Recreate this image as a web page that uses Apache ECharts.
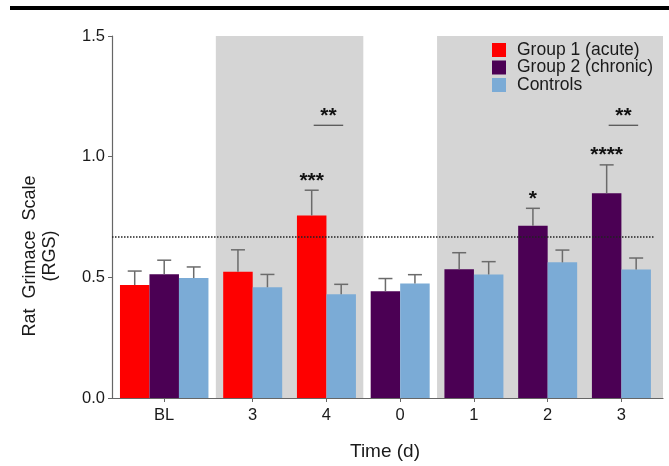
<!DOCTYPE html>
<html lang="en">

<head>
  <meta charset="UTF-8" />
  <title>Rat Grimace Scale</title>
  <script src="https://cdn.jsdelivr.net/npm/echarts@6/dist/echarts.min.js"></script>
  <style>
    body { margin: 0; background: #fff; }
  </style>
</head>

<body>
  <div id="main" style="width: 669px;height:466px;"></div>
  <script type="text/javascript">
    // categories on the x axis (days)
    var categories = ['BL', '3', '4', '0', '1', '2', '3']
    // mean RGS per group (null = group not measured that day)
    var group1 = [0.468, 0.523, 0.756, null, null, null, null]
    var group1Err = [0.058, 0.091, 0.105, null, null, null, null]
    var group2 = [0.513, null, null, 0.442, 0.533, 0.714, 0.848]
    var group2Err = [0.058, null, null, 0.053, 0.069, 0.072, 0.118]
    var controls = [0.497, 0.459, 0.430, 0.474, 0.512, 0.562, 0.532]
    var controlsErr = [0.046, 0.053, 0.041, 0.037, 0.053, 0.051, 0.048]
    var seriesNames = ['Group 1 (acute)', 'Group 2 (chronic)', 'Controls']
    var threshold = 0.67
    // stars over a single bar
    var starCats = [2, 5, 6]
    var starSeries = [0, 1, 1]
    var starText = ['***', '*', '****']
    // group vs controls comparisons
    var bracketCats = [2, 6]
    var bracketValue = [1.13, 1.13]
    var bracketText = ['**', '**']
    // shaded periods (first / last category index)
    var shadeFrom = [1, 4]
    var shadeTo = [2, 6]

    var colors = ['#fe0000', '#4b0054', '#7babd6']
    var errColor = '#6b6b6b'
    var font = 'Liberation Sans, Arial, sans-serif'

    var seriesVals = [group1, group2, controls]
    var seriesErrs = [group1Err, group2Err, controlsErr]

    // bar layout, in bar widths
    var barPos = [[], [], []]
    var catCenter = [], catStart = [], catEnd = []
    var pos = 0.27
    categories.forEach(function (c, i) {
      catStart.push(pos)
      seriesVals.forEach(function (vals, s) {
        if (vals[i] != null) {
          barPos[s][i] = pos + 0.5
          pos += 1
        } else {
          barPos[s][i] = null
        }
      })
      catEnd.push(pos)
      catCenter.push((catStart[i] + pos) / 2)
      pos += 0.5
    })
    var xMax = catEnd[catEnd.length - 1] + 0.41

    var myChart = echarts.init(document.getElementById('main'))

    function barSeries(s) {
      var data = []
      categories.forEach(function (c, i) {
        if (seriesVals[s][i] != null) {
          data.push([barPos[s][i], seriesVals[s][i], seriesErrs[s][i]])
        }
      })
      return {
        name: seriesNames[s],
        type: 'custom',
        z: 3,
        itemStyle: { color: colors[s] },
        encode: { x: 0, y: 1 },
        data: data,
        renderItem: function (params, api) {
          var cx = api.value(0), v = api.value(1), e = api.value(2)
          var tl = api.coord([cx - 0.5, v])
          var br = api.coord([cx + 0.5, 0])
          var top = api.coord([cx, v + e])
          return {
            type: 'group',
            children: [{
              type: 'rect',
              shape: { x: tl[0], y: tl[1], width: br[0] - tl[0], height: br[1] - tl[1] },
              style: { fill: colors[s] }
            }, {
              type: 'line',
              shape: { x1: top[0], y1: tl[1], x2: top[0], y2: top[1] },
              style: { stroke: errColor, lineWidth: 1.5 }
            }, {
              type: 'line',
              shape: { x1: top[0] - 7, y1: top[1], x2: top[0] + 7, y2: top[1] },
              style: { stroke: errColor, lineWidth: 1.5 }
            }]
          }
        }
      }
    }

    // gray shaded periods
    var shadeData = shadeFrom.map(function (f, k) {
      var left = catStart[f] - 0.25
      var right = shadeTo[k] === categories.length - 1 ? xMax : catEnd[shadeTo[k]] + 0.25
      return [left, right]
    })

    // star labels
    var starData = starCats.map(function (c, k) {
      var s = starSeries[k]
      return [barPos[s][c], seriesVals[s][c] + seriesErrs[s][c]]
    })
    var bracketData = bracketCats.map(function (c, k) {
      var g = group1[c] != null ? 0 : 1
      return [barPos[g][c], barPos[2][c], bracketValue[k]]
    })

    var option = {
      animation: false,
      grid: { left: 112, right: 6, top: 36, bottom: 68 },
      legend: {
        data: seriesNames,
        orient: 'vertical',
        left: 492,
        top: 41,
        padding: 0,
        icon: 'rect',
        itemWidth: 14,
        itemHeight: 14,
        itemGap: -0.5,
        textStyle: { fontFamily: font, fontSize: 17.5, color: '#1a1a1a', padding: [0, 0, 0, 6] }
      },
      xAxis: {
        type: 'value',
        min: 0,
        max: xMax,
        splitLine: { show: false },
        axisLine: { show: true, lineStyle: { color: '#666', width: 1.2 } },
        axisTick: { show: true, length: 4, customValues: catCenter, lineStyle: { color: '#666' } },
        axisLabel: {
          customValues: catCenter,
          margin: 9,
          fontFamily: font,
          fontSize: 16.5,
          color: '#1a1a1a',
          formatter: function (val) {
            var best = 0
            catCenter.forEach(function (c, i) {
              if (Math.abs(c - val) < Math.abs(catCenter[best] - val)) best = i
            })
            return categories[best]
          }
        },
        name: 'Time (d)',
        nameLocation: 'middle',
        nameGap: 44,
        nameTextStyle: { fontFamily: font, fontSize: 19, color: '#1a1a1a', padding: [0, 5, 0, 0] }
      },
      yAxis: {
        type: 'value',
        min: 0,
        max: 1.5,
        interval: 0.5,
        splitLine: { show: false },
        axisLine: { show: true, lineStyle: { color: '#666', width: 1.2 } },
        axisTick: { show: true, length: 4, lineStyle: { color: '#666' } },
        axisLabel: {
          margin: 7,
          fontFamily: font,
          fontSize: 16.5,
          color: '#1a1a1a',
          formatter: function (v) { return v.toFixed(1) }
        }
      },
      graphic: [{
        type: 'rect',
        shape: { x: 10, y: 6, width: 659, height: 4 },
        style: { fill: '#000' }
      }, {
        type: 'text',
        x: 40,
        y: 256,
        rotation: Math.PI / 2,
        style: {
          text: 'Rat  Grimace  Scale\n(RGS)',
          align: 'center',
          verticalAlign: 'middle',
          lineHeight: 20,
          font: '18px ' + font,
          fill: '#1a1a1a'
        }
      }],
      series: [{
        type: 'custom',
        z: 1,
        silent: true,
        data: shadeData,
        encode: { x: [0, 1] },
        renderItem: function (params, api) {
          var a = api.coord([api.value(0), 1.5])
          var b = api.coord([api.value(1), 0])
          return {
            type: 'rect',
            shape: { x: a[0], y: a[1], width: b[0] - a[0], height: b[1] - a[1] },
            style: { fill: '#d5d5d5' }
          }
        },
        markLine: {
          silent: true,
          symbol: 'none',
          label: { show: false },
          lineStyle: { type: 'dotted', color: '#222', width: 1.5 },
          data: [[{ coord: [0, threshold] }, { coord: [xMax - 0.27, threshold] }]]
        }
      },
      barSeries(0),
      barSeries(1),
      barSeries(2),
      {
        type: 'custom',
        z: 4,
        silent: true,
        data: starData,
        encode: { x: 0, y: 1 },
        renderItem: function (params, api) {
          var p = api.coord([api.value(0), api.value(1)])
          return {
            type: 'text',
            x: p[0],
            y: p[1] + 1,
            style: {
              text: starText[params.dataIndex],
              align: 'center',
              verticalAlign: 'bottom',
              font: 'bold 21px ' + font,
              fill: '#111'
            }
          }
        }
      },
      {
        type: 'custom',
        z: 4,
        silent: true,
        data: bracketData,
        encode: { x: [0, 1], y: 2 },
        renderItem: function (params, api) {
          var a = api.coord([api.value(0), api.value(2)])
          var b = api.coord([api.value(1), api.value(2)])
          return {
            type: 'group',
            children: [{
              type: 'line',
              shape: { x1: a[0] + 2, y1: a[1], x2: b[0] + 2, y2: b[1] },
              style: { stroke: '#555', lineWidth: 1.3 }
            }, {
              type: 'text',
              x: (a[0] + b[0]) / 2 + 2,
              y: a[1] + 1,
              style: {
                text: bracketText[params.dataIndex],
                align: 'center',
                verticalAlign: 'bottom',
                font: 'bold 21px ' + font,
                fill: '#111'
              }
            }]
          }
        }
      }]
    }

    myChart.setOption(option)
  </script>
</body>

</html>
